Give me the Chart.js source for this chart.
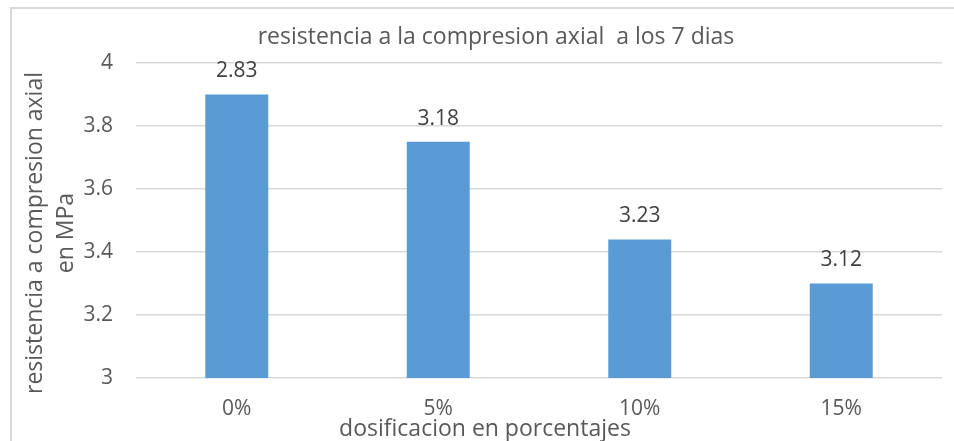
<!DOCTYPE html>
<html>
<head>
<meta charset="utf-8">
<script src="https://cdn.jsdelivr.net/npm/chart.js@4/dist/chart.umd.min.js"></script>
<style>
  html, body { margin: 0; padding: 0; background: #ffffff; overflow: hidden; }
  #wrap { position: relative; width: 954px; height: 441px; }
  #frame {
    position: absolute; left: 10px; top: 7px; width: 1000px; height: 500px;
    border-left: 2px solid #d9d9d9; border-top: 2px solid #d9d9d9; box-sizing: border-box;
  }
  canvas { position: absolute; left: 0; top: 0; }
</style>
</head>
<body>
<div id="wrap">
  <div id="frame"></div>
  <canvas id="c" width="954" height="441"></canvas>
</div>
<script>
// Dosage categories and measured compressive strength at 7 days
const categories = ['0%', '5%', '10%', '15%'];
const strengthValues = [3.9, 3.75, 3.44, 3.3];
// Text printed above each column
const labelTexts = ['2.83', '3.18', '3.23', '3.12'];
const yTicks = [3, 3.2, 3.4, 3.6, 3.8, 4];

const chartTitle = 'resistencia a la compresion axial  a los 7 dias';
const yTitleLines = ['resistencia a compresion axial', 'en MPa'];
const xTitle = 'dosificacion en porcentajes';

const FONT = "'Open Sans', 'DejaVu Sans', sans-serif";
const TEXT = '#595959';

// Value text above the columns
const columnLabels = {
  id: 'columnLabels',
  afterDatasetsDraw(chart) {
    const ctx = chart.ctx;
    const meta = chart.getDatasetMeta(0);
    ctx.save();
    ctx.font = '21px ' + FONT;
    ctx.fillStyle = '#404040';
    ctx.textAlign = 'center';
    ctx.textBaseline = 'middle';
    meta.data.forEach((bar, i) => {
      ctx.fillText(labelTexts[i], bar.x, bar.y - 23);
    });
    ctx.restore();
  }
};

// Chart title and axis titles
const titles = {
  id: 'titles',
  afterDraw(chart) {
    const ctx = chart.ctx;
    ctx.save();
    ctx.font = '23px ' + FONT;
    ctx.fillStyle = TEXT;
    ctx.textAlign = 'center';
    ctx.textBaseline = 'middle';
    ctx.fillText(chartTitle, 496, 37);
    ctx.fillText(xTitle, 485, 429);
    ctx.translate(0, 233);
    ctx.rotate(-Math.PI / 2);
    ctx.fillText(yTitleLines[0], 0, 35);
    ctx.fillText(yTitleLines[1], 0, 66);
    ctx.restore();
  }
};

new Chart(document.getElementById('c'), {
  type: 'bar',
  data: {
    labels: categories,
    datasets: [{
      data: strengthValues,
      backgroundColor: '#5b9bd5',
      borderWidth: 0,
      barPercentage: 0.625,
      categoryPercentage: 0.5
    }]
  },
  options: {
    responsive: false,
    animation: false,
    events: [],
    layout: { padding: { left: 0, right: 12, top: 63, bottom: 0 } },
    plugins: {
      legend: { display: false },
      tooltip: { enabled: false },
      title: { display: false }
    },
    scales: {
      x: {
        grid: { display: false, drawTicks: false },
        border: { display: false },
        ticks: { color: TEXT, font: { family: FONT, size: 21 }, padding: 18 },
        afterFit(scale) { scale.height = 441 - 378; }
      },
      y: {
        min: 3,
        max: 4,
        afterBuildTicks(scale) { scale.ticks = yTicks.map(v => ({ value: v })); },
        grid: { color: '#d9d9d9', lineWidth: 1.5, drawTicks: false },
        border: { display: false },
        ticks: {
          color: TEXT,
          font: { family: FONT, size: 21 },
          padding: 23,
          callback: v => String(v)
        },
        afterFit(scale) { scale.width = 136; }
      }
    }
  },
  plugins: [columnLabels, titles]
});
</script>
</body>
</html>
